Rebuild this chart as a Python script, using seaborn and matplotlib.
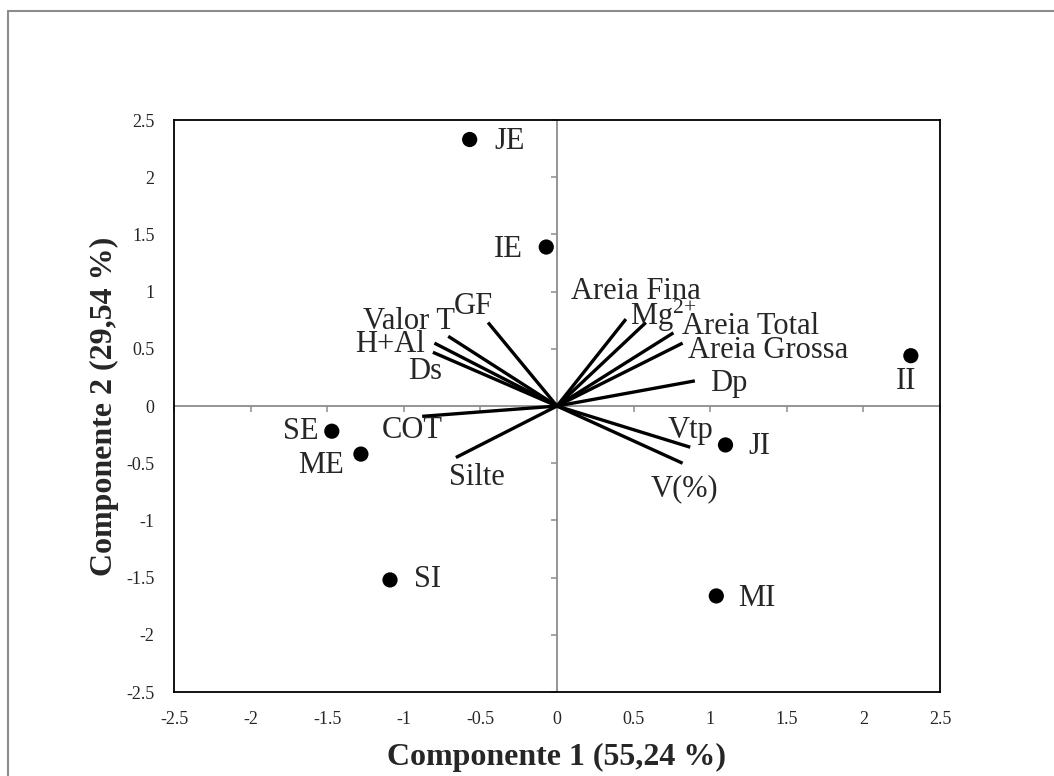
import numpy as np
import pandas as pd
import matplotlib
matplotlib.use("Agg")
import matplotlib.pyplot as plt
from matplotlib.lines import Line2D
import seaborn as sns

# scores das amostras (componente 1, componente 2)
amostras = ["JE", "IE", "SE", "ME", "SI", "MI", "JI", "II"]
amostra_c1 = [-0.57, -0.07, -1.47, -1.28, -1.09, 1.04, 1.10, 2.31]
amostra_c2 = [2.33, 1.39, -0.22, -0.42, -1.52, -1.66, -0.34, 0.44]

# cargas das variaveis
variaveis = ["GF", "Valor T", "H+Al", "Ds", "COT", "Silte",
             "Areia Fina", "Mg$^{2{+}}$", "Areia Total", "Areia Grossa",
             "Dp", "Vtp", "V(%)"]
var_c1 = [-0.45, -0.71, -0.80, -0.81, -0.88, -0.66,
          0.45, 0.58, 0.76, 0.82, 0.90, 0.87, 0.82]
var_c2 = [0.73, 0.61, 0.55, 0.47, -0.09, -0.45,
          0.76, 0.73, 0.64, 0.55, 0.22, -0.36, -0.50]

ticks = [-2.5, -2, -1.5, -1, -0.5, 0, 0.5, 1, 1.5, 2, 2.5]
tick_labels = ["-2.5", "-2", "-1.5", "-1", "-0.5", "0", "0.5", "1", "1.5", "2", "2.5"]

# deslocamento dos rotulos (pixels)
off_amostra = {"JE": (40, -2), "IE": (-38, -2), "SE": (-31, 0), "ME": (-40, -11),
               "SI": (38, 0), "MI": (41, -3), "JI": (34, -2), "II": (-5, -26)}
off_var = {"GF": (-15, 16), "Valor T": (-39, 15), "H+Al": (-44, -1), "Ds": (-8, -19),
           "COT": (-10, -14), "Silte": (21, -20), "Areia Fina": (10, 28),
           "Mg$^{2{+}}$": (17, 7), "Areia Total": (77, 6), "Areia Grossa": (86, -7),
           "Dp": (34, -3), "Vtp": (0, 17), "V(%)": (2, -25)}

df_amostras = pd.DataFrame({"amostra": amostras, "c1": amostra_c1, "c2": amostra_c2})
df_var = pd.DataFrame({"variavel": variaveis, "c1": var_c1, "c2": var_c2})

sns.set_theme(style="white")
plt.rcParams["font.family"] = ["Liberation Serif", "DejaVu Serif"]
plt.rcParams["mathtext.fontset"] = "custom"
plt.rcParams["mathtext.rm"] = "Liberation Serif"
plt.rcParams["mathtext.it"] = "Liberation Serif:italic"

fig = plt.figure(figsize=(10.54, 7.76), dpi=100)
pos = [0.1651, 0.1082, 0.7267, 0.7371]

# eixos cinza cruzando no zero
ax0 = fig.add_axes(pos)
ax0.set_xlim(-2.5, 2.5)
ax0.set_ylim(-2.5, 2.5)
for s in ["top", "right"]:
    ax0.spines[s].set_visible(False)
for s in ["left", "bottom"]:
    ax0.spines[s].set_position(("data", 0))
    ax0.spines[s].set_color("#8c8c8c")
    ax0.spines[s].set_linewidth(1.3)
ax0.set_xticks(ticks)
ax0.set_yticks(ticks)
ax0.tick_params(direction="out", length=4, width=1.1, color="#8c8c8c",
                labelbottom=False, labelleft=False, bottom=True, left=True)
ax0.patch.set_visible(False)
ax0.set_zorder(0)

ax = fig.add_axes(pos)
ax.set_zorder(1)
ax.patch.set_visible(False)

for _, r in df_var.iterrows():
    ax.plot([0, r["c1"]], [0, r["c2"]], color="black", lw=2.4, solid_capstyle="butt")
    ax.annotate(r["variavel"], (r["c1"], r["c2"]), xytext=off_var[r["variavel"]],
                textcoords="offset pixels", ha="center", va="center", fontsize=22)

sns.scatterplot(data=df_amostras, x="c1", y="c2", ax=ax, color="black",
                s=120, edgecolor="none", zorder=3)
for _, r in df_amostras.iterrows():
    ax.annotate(r["amostra"], (r["c1"], r["c2"]), xytext=off_amostra[r["amostra"]],
                textcoords="offset pixels", ha="center", va="center", fontsize=22)

ax.set_xlim(-2.5, 2.5)
ax.set_ylim(-2.5, 2.5)
ax.set_xticks(ticks)
ax.set_xticklabels(tick_labels)
ax.set_yticks(ticks)
ax.set_yticklabels(tick_labels)
ax.tick_params(length=0, labelsize=13, pad=14)
for s in ax.spines.values():
    s.set_visible(True)
    s.set_color("black")
    s.set_linewidth(1.3)

ax.set_xlabel("Componente 1 (55,24 %)", fontsize=23, fontweight="bold")
ax.set_ylabel("Componente 2 (29,54 %)", fontsize=23, fontweight="bold")
ax.xaxis.label.set_va("center")
ax.yaxis.label.set_va("center")
ax.xaxis.set_label_coords(0.5, -0.1136)
ax.yaxis.set_label_coords(-0.0914, 0.5)

# moldura externa
fig.add_artist(Line2D([8 / 1054, 8 / 1054], [0, 1 - 10.5 / 776], color="#8c8c8c", lw=1.5,
                      transform=fig.transFigure))
fig.add_artist(Line2D([8 / 1054, 1], [1 - 10.5 / 776, 1 - 10.5 / 776], color="#8c8c8c", lw=1.5,
                      transform=fig.transFigure))

fig.savefig("out.png", dpi=100, facecolor="white")
